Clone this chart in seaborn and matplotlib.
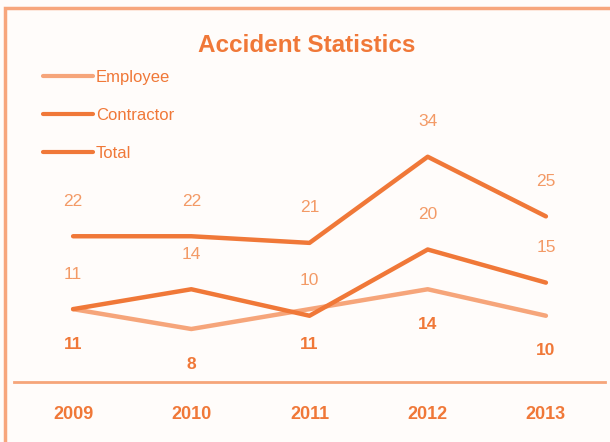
import matplotlib
matplotlib.use("Agg")
import matplotlib.pyplot as plt
import seaborn as sns
import pandas as pd
from matplotlib.patches import Rectangle

years = ["2009", "2010", "2011", "2012", "2013"]
employee = [11, 8, 11, 14, 10]
contractor = [11, 14, 10, 20, 15]
total = [22, 22, 21, 34, 25]
series_names = ["Employee", "Contractor", "Total"]

DARK = "#f07838"
LIGHT = "#f6a57a"
TEXT_LIGHT = "#f39a66"

sns.set_theme(style="white")
plt.rcParams['font.family'] = ['Liberation Sans', 'DejaVu Sans']

rows = []
for name, vals in zip(series_names, [employee, contractor, total]):
    for i, (y, v) in enumerate(zip(years, vals)):
        rows.append({"x": i, "year": y, "value": v, "series": name})
df = pd.DataFrame(rows)

fig = plt.figure(figsize=(6.1, 4.42), dpi=100)
fig.patch.set_facecolor("#fffcfa")
W, H = 610, 442
ax = fig.add_axes([14 / W, (H - 382) / H, 591 / W, (382 - 117) / H])
ax.set_facecolor("none")

palette = {"Employee": LIGHT, "Contractor": DARK, "Total": DARK}
sns.lineplot(data=df, x="x", y="value", hue="series", palette=palette,
             linewidth=3.2, ax=ax, legend=True, hue_order=series_names)

ax.set_xlim(-0.5, 4.5)
ax.set_ylim(0, 40)
ax.set_xticks(range(len(years)))
ax.set_xticklabels(years, fontsize=13, fontweight="bold", color=DARK)
ax.tick_params(axis="x", length=0, pad=17)
ax.set_yticks([])
ax.set_xlabel("")
ax.set_ylabel("")
for s in ["top", "right", "left"]:
    ax.spines[s].set_visible(False)
ax.spines["bottom"].set_color(LIGHT)
ax.spines["bottom"].set_linewidth(2)

off = 35 / 6.62
for i in range(len(years)):
    ax.text(i, total[i] + off, str(total[i]), ha="center", va="center",
            fontsize=12.5, color=TEXT_LIGHT)
    ax.text(i, contractor[i] + off, str(contractor[i]), ha="center", va="center",
            fontsize=12.5, color=TEXT_LIGHT)
    ax.text(i, employee[i] - off, str(employee[i]), ha="center", va="center",
            fontsize=12.5, fontweight="bold", color=DARK)

handles, labels = ax.get_legend_handles_labels()
for h in handles:
    h.set_linewidth(3)
leg = ax.legend(handles, labels, loc="upper left",
                bbox_to_anchor=(36 / W, 1 - 63 / H), bbox_transform=fig.transFigure,
                frameon=False, fontsize=12, handlelength=3.0, handletextpad=0.2,
                labelspacing=1.38, borderaxespad=0)
for t in leg.get_texts():
    t.set_color(DARK)

fig.text(307 / W, 1 - 45 / H, "Accident Statistics", ha="center", va="center",
         fontsize=17.5, fontweight="bold", color=DARK)

fig.patches.append(Rectangle((5 / W, -0.05), 1.1, 1 - 8 / H + 0.05,
                             transform=fig.transFigure, fill=False,
                             edgecolor="#f7a67c", linewidth=2.5))

fig.savefig("out.png", dpi=100, facecolor=fig.get_facecolor())
